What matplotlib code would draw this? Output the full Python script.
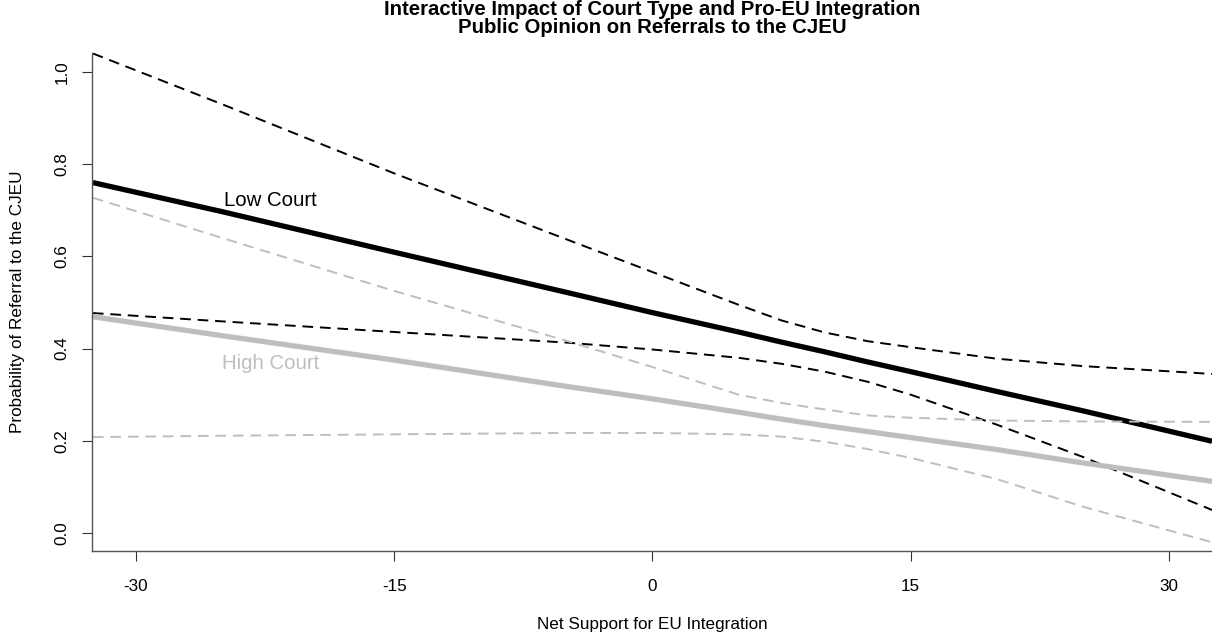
import matplotlib
matplotlib.use("Agg")
import matplotlib.pyplot as plt
import numpy as np

# Net support for EU integration (x grid)
support = [-32.5, -25, -15, -5, 0, 5, 7.5, 10, 12.5, 15, 20, 25, 32.5]

# Low court: predicted probability and confidence bounds
low_fit = [0.760, 0.697, 0.609, 0.522, 0.478, 0.436, 0.414, 0.393, 0.371, 0.350, 0.307, 0.265, 0.199]
low_upper = [1.040, 0.930, 0.780, 0.637, 0.566, 0.495, 0.461, 0.435, 0.416, 0.403, 0.378, 0.362, 0.345]
low_lower = [0.477, 0.459, 0.436, 0.413, 0.398, 0.380, 0.367, 0.350, 0.328, 0.300, 0.235, 0.165, 0.050]

# High court: predicted probability and confidence bounds
high_fit = [0.469, 0.428, 0.375, 0.318, 0.291, 0.262, 0.247, 0.233, 0.220, 0.207, 0.181, 0.152, 0.112]
high_upper = [0.727, 0.640, 0.525, 0.417, 0.360, 0.300, 0.282, 0.268, 0.255, 0.250, 0.244, 0.242, 0.241]
high_lower = [0.208, 0.211, 0.214, 0.217, 0.217, 0.214, 0.209, 0.198, 0.182, 0.163, 0.117, 0.057, -0.020]

x_ticks = [-30, -15, 0, 15, 30]
y_ticks = [0.0, 0.2, 0.4, 0.6, 0.8, 1.0]

plt.rcParams['font.family'] = ['Liberation Sans', 'DejaVu Sans']

W, H = 1212, 636
fig = plt.figure(figsize=(W / 100, H / 100), dpi=100)
ax = fig.add_axes([92 / W, 85 / H, 1120 / W, 498 / H])

gray = '#BEBEBE'
ax.plot(support, low_fit, color='black', lw=3.8, solid_capstyle='butt')
ax.plot(support, low_upper, color='black', lw=1.4, dashes=(5.5, 3.5))
ax.plot(support, low_lower, color='black', lw=1.4, dashes=(5.5, 3.5))
ax.plot(support, high_fit, color=gray, lw=3.8, solid_capstyle='butt')
ax.plot(support, high_upper, color=gray, lw=1.4, dashes=(5.5, 3.5))
ax.plot(support, high_lower, color=gray, lw=1.4, dashes=(5.5, 3.5))

ax.text(-22.2, 0.722, 'Low Court', fontsize=14.7, color='black', ha='center', va='center')
ax.text(-22.2, 0.367, 'High Court', fontsize=14.7, color=gray, ha='center', va='center')

ax.set_xlim(-32.55, 32.5)
ax.set_ylim(-0.039, 1.041)
ax.set_xticks(x_ticks)
ax.set_xticklabels([str(t) for t in x_ticks])
ax.set_yticks(y_ticks)
ax.set_yticklabels([f"{t:.1f}" for t in y_ticks])

for side in ['top', 'right']:
    ax.spines[side].set_visible(False)
for side in ['left', 'bottom']:
    ax.spines[side].set_color('#555555')
    ax.spines[side].set_linewidth(1.0)

ax.tick_params(axis='both', direction='out', length=7.5, width=0.8, color='#333333',
               labelsize=12.3)
ax.tick_params(axis='x', pad=13)
ax.tick_params(axis='y', pad=8.5, labelrotation=90)
for lab in ax.get_yticklabels():
    lab.set_va('center')

# axis titles
fig.text(652 / W, 1 - 625 / H, 'Net Support for EU Integration', fontsize=12.3,
         ha='center', va='center')
fig.text(18 / W, 1 - 302 / H, 'Probability of Referral to the CJEU', fontsize=12.3,
         ha='center', va='center', rotation=90)

# two-line bold title
fig.text(652 / W, 1 - 15 / H, 'Interactive Impact of Court Type and Pro-EU Integration',
         fontsize=14.7, fontweight='bold', ha='center', va='baseline')
fig.text(652 / W, 1 - 33 / H, 'Public Opinion on Referrals to the CJEU',
         fontsize=14.7, fontweight='bold', ha='center', va='baseline')

fig.savefig('out.png', dpi=100)
